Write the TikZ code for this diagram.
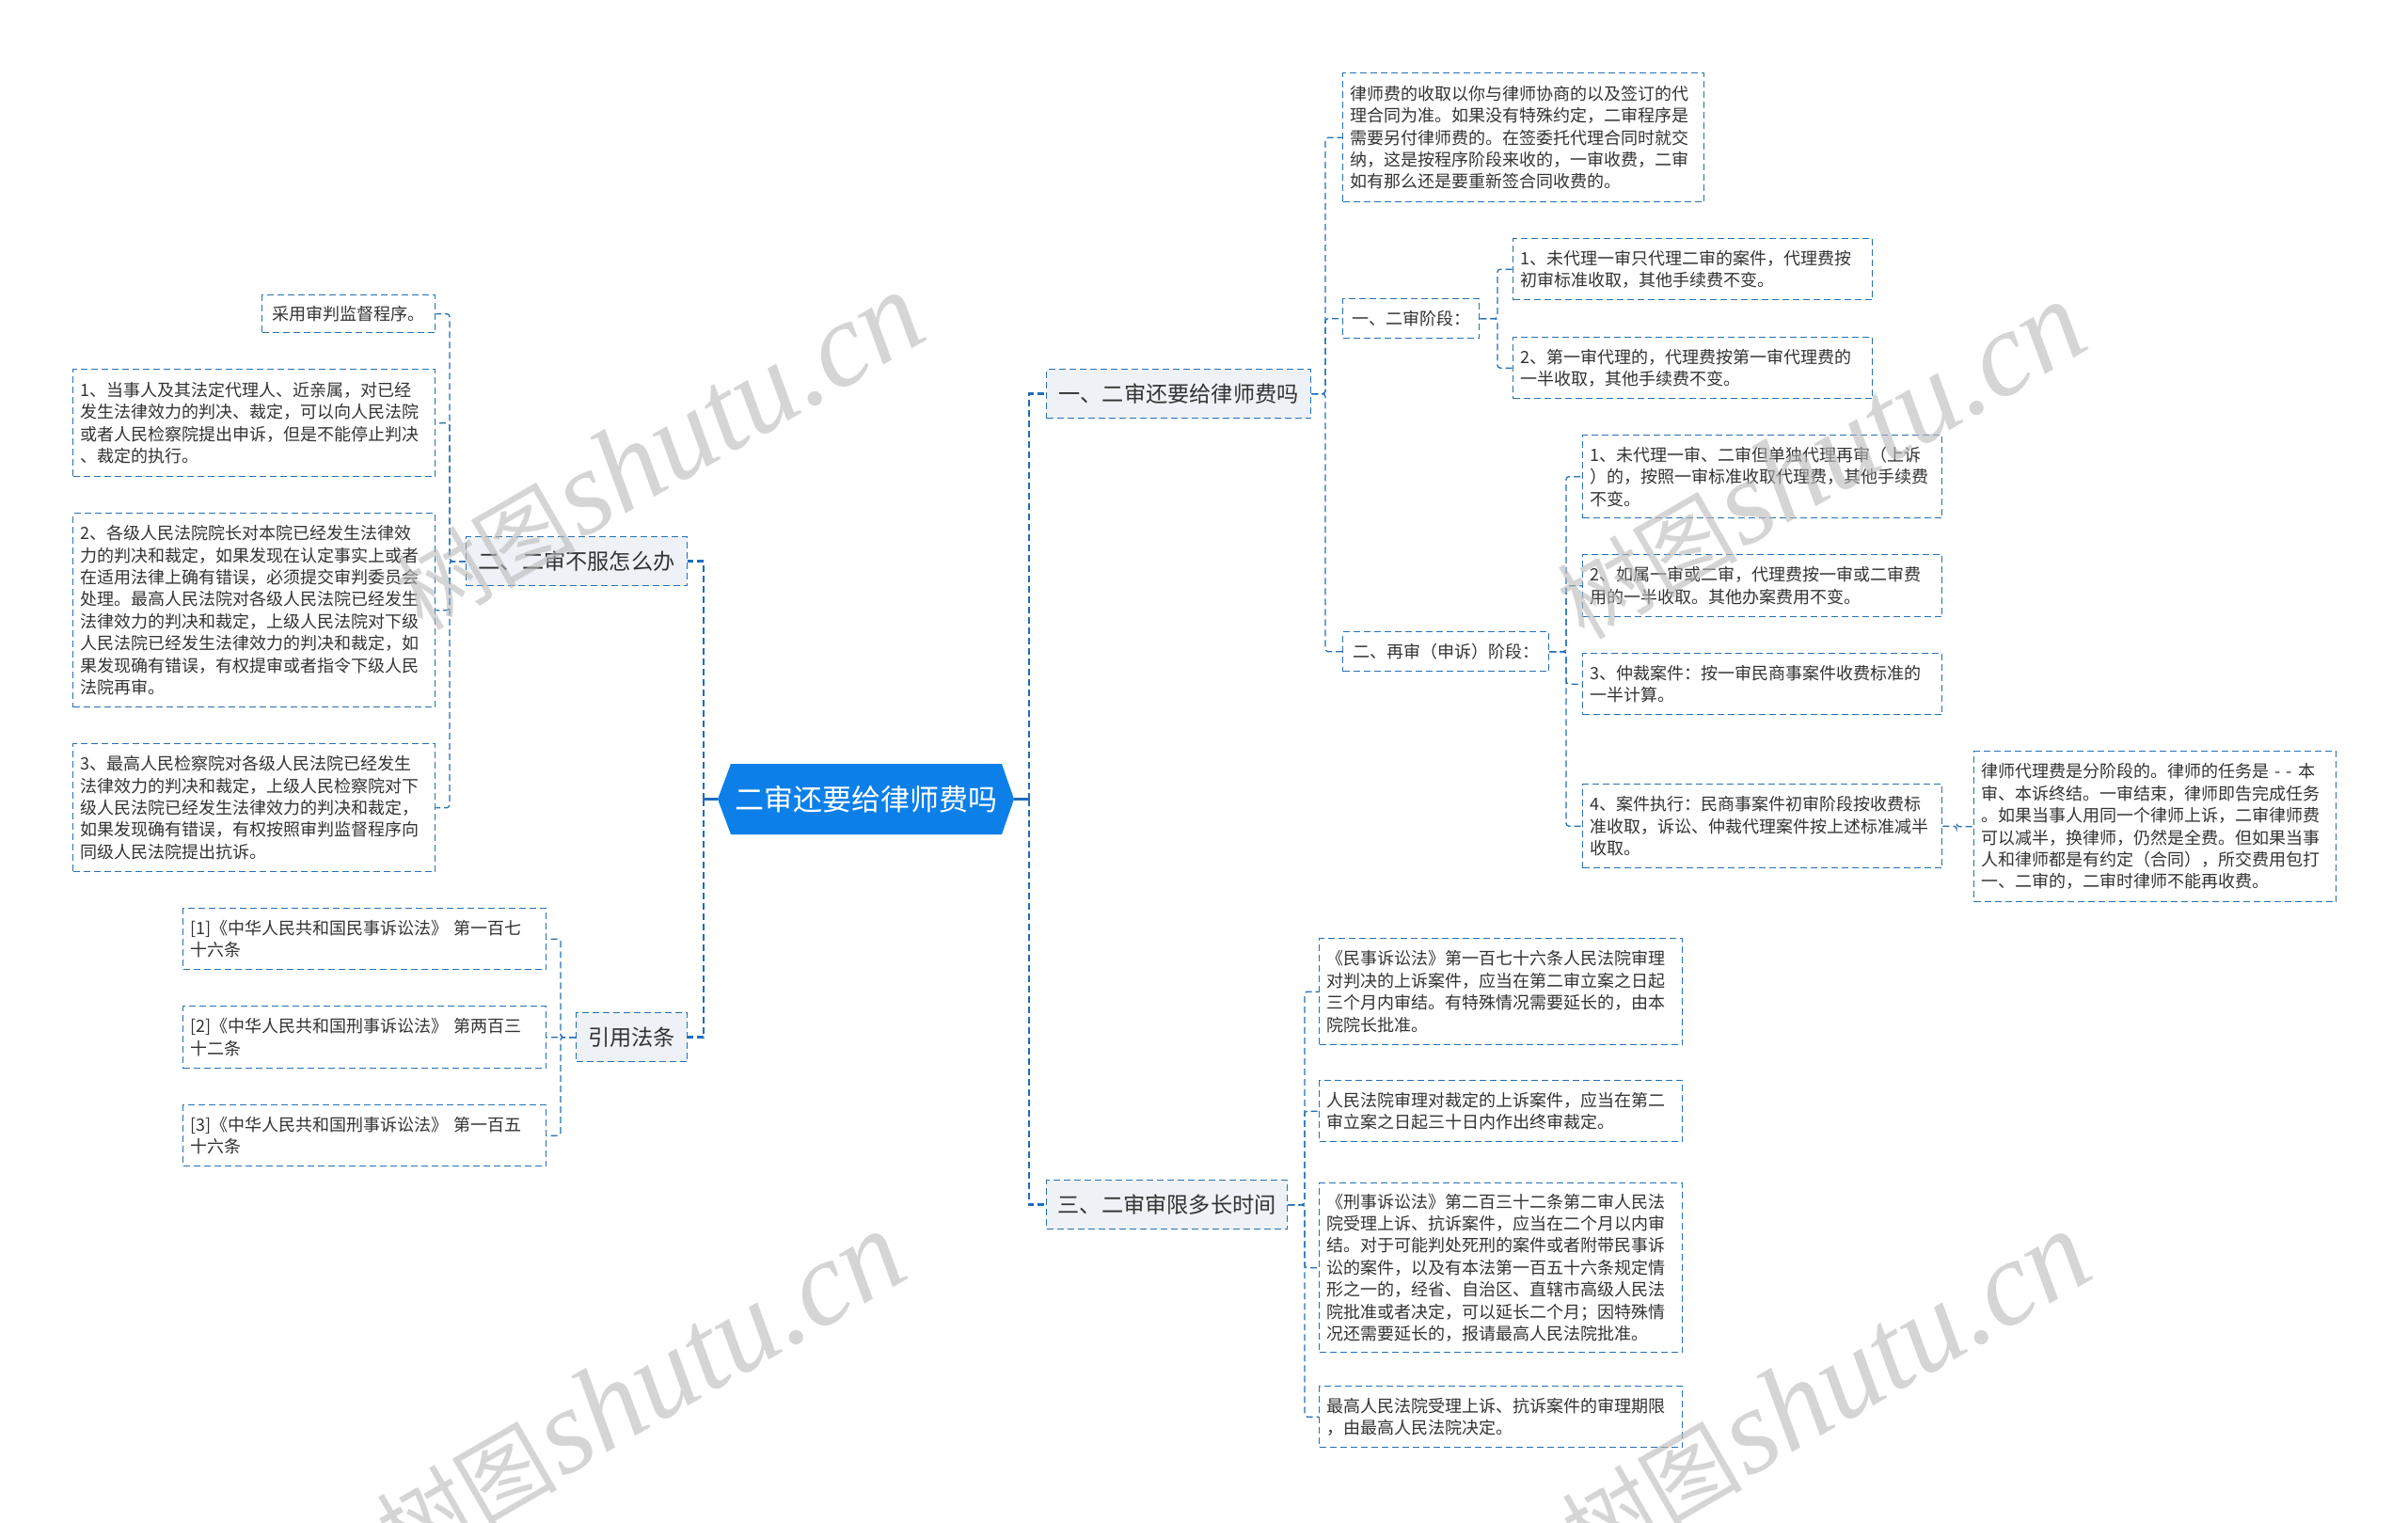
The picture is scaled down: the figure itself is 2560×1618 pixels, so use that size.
\documentclass[tikz,border=0pt]{standalone}
\usepackage{fontspec}
\setmainfont{Noto Sans CJK SC}
\newfontfamily\wmfont{Liberation Serif}
\usetikzlibrary{calc}
\definecolor{bord}{RGB}{38,112,180}
\definecolor{trk}{RGB}{28,108,190}
\definecolor{ctr}{RGB}{12,128,232}
\definecolor{lvl}{RGB}{238,241,245}
\definecolor{txt}{RGB}{51,51,51}
\definecolor{wm}{RGB}{185,185,185}
\tikzset{
  leaf/.style={draw=bord, line width=0.65pt, dash pattern=on 3.5pt off 2pt, fill=white,
    anchor=north west, inner xsep=4pt, inner ysep=3pt, align=left, text=txt,
    font=\fontsize{9pt}{11.7pt}\selectfont},
  lvone/.style={leaf, fill=lvl, align=center, font=\fontsize{11.6pt}{14pt}\selectfont},
  con/.style={draw=bord, line width=0.65pt, dash pattern=on 3.5pt off 2pt, rounded corners=1.5pt},
  trunk/.style={draw=trk, line width=1.3pt, dash pattern=on 3.5pt off 2pt},
  soltrunk/.style={draw=trk, line width=1.3pt},
  wmark/.style={rotate=30, text=wm, opacity=0.6}
}
\begin{document}
\begin{tikzpicture}[x=0.5pt,y=-0.5pt]
\useasboundingbox (0,0) rectangle (2560,1618);
\fill[white] (0,0) rectangle (2560,1618);

% trunk coordinates
\coordinate (tL) at (748,0);
\coordinate (tR) at (1094,0);
\coordinate (tA) at (1409,0);
\coordinate (tB) at (1592,0);
\coordinate (tC) at (1665,0);
\coordinate (tD) at (2080,0);
\coordinate (tE) at (1387,0);
\coordinate (tF) at (478,0);
\coordinate (tG) at (596,0);

% center
\fill[ctr] (763,849.5) -- (777,812) -- (1065,812) -- (1078,849.5) -- (1065,887) -- (777,887) -- cycle;
\node[inner sep=0, minimum width=157.5pt, minimum height=37.5pt, text=white,
  font=\fontsize{15.5pt}{18pt}\selectfont] (C) at (920.5,849.5) {二审还要给律师费吗};

% level one
\node[lvone, minimum width=140.5pt, minimum height=26pt] (R1) at (1112,392) {一、二审还要给律师费吗};
\node[lvone, minimum width=128pt, minimum height=26pt] (R2) at (1112,1254) {三、二审审限多长时间};
\node[lvone, minimum width=117.5pt, minimum height=26pt] (L1) at (495,570) {二、二审不服怎么办};
\node[lvone, minimum width=59pt, minimum height=26pt] (L2) at (612,1076) {引用法条};

% right branch 1
\node[leaf, text width=184pt, minimum height=68.5pt] (A1) at (1427,77) {律师费的收取以你与律师协商的以及签订的代\\理合同为准。如果没有特殊约定，二审程序是\\需要另付律师费的。在签委托代理合同时就交\\纳，这是按程序阶段来收的，一审收费，二审\\如有那么还是要重新签合同收费的。};
\node[leaf, align=center, minimum width=72.5pt, minimum height=21pt] (A2) at (1427,317) {一、二审阶段：};
\node[leaf, align=center, minimum width=109.5pt, minimum height=21pt] (A3) at (1427,671) {二、再审（申诉）阶段：};

\node[leaf, text width=183pt, minimum height=32.5pt] (B1) at (1608,253) {1、未代理一审只代理二审的案件，代理费按\\初审标准收取，其他手续费不变。};
\node[leaf, text width=183pt, minimum height=32.5pt] (B2) at (1608,358) {2、第一审代理的，代理费按第一审代理费的\\一半收取，其他手续费不变。};

\node[leaf, text width=183pt, minimum height=44pt] (C1) at (1682,462) {1、未代理一审、二审但单独代理再审（上诉\\）的，按照一审标准收取代理费，其他手续费\\不变。};
\node[leaf, text width=183pt, minimum height=33pt] (C2) at (1682,589) {2、如属一审或二审，代理费按一审或二审费\\用的一半收取。其他办案费用不变。};
\node[leaf, text width=183pt, minimum height=32.5pt] (C3) at (1682,694) {3、仲裁案件：按一审民商事案件收费标准的\\一半计算。};
\node[leaf, text width=183pt, minimum height=44.5pt] (C4) at (1682,833) {4、案件执行：民商事案件初审阶段按收费标\\准收取，诉讼、仲裁代理案件按上述标准减半\\收取。};

\node[leaf, text width=184.5pt, minimum height=80pt] (D1) at (2098,798) {律师代理费是分阶段的。律师的任务是 - - 本\\审、本诉终结。一审结束，律师即告完成任务\\。如果当事人用同一个律师上诉，二审律师费\\可以减半，换律师，仍然是全费。但如果当事\\人和律师都是有约定（合同），所交费用包打\\一、二审的，二审时律师不能再收费。};

% right branch 3
\node[leaf, text width=185pt, minimum height=56.5pt] (E1) at (1402,997) {《民事诉讼法》第一百七十六条人民法院审理\\对判决的上诉案件，应当在第二审立案之日起\\三个月内审结。有特殊情况需要延长的，由本\\院院长批准。};
\node[leaf, text width=185pt, minimum height=32.5pt] (E2) at (1402,1148) {人民法院审理对裁定的上诉案件，应当在第二\\审立案之日起三十日内作出终审裁定。};
\node[leaf, text width=185pt, minimum height=90pt] (E3) at (1402,1257) {《刑事诉讼法》第二百三十二条第二审人民法\\院受理上诉、抗诉案件，应当在二个月以内审\\结。对于可能判处死刑的案件或者附带民事诉\\讼的案件，以及有本法第一百五十六条规定情\\形之一的，经省、自治区、直辖市高级人民法\\院批准或者决定，可以延长二个月；因特殊情\\况还需要延长的，报请最高人民法院批准。};
\node[leaf, text width=185pt, minimum height=32.5pt] (E4) at (1402,1473) {最高人民法院受理上诉、抗诉案件的审理期限\\，由最高人民法院决定。};

% left branch 2
\node[leaf, align=center, minimum width=92pt, minimum height=20pt] (F0) at (278,313) {采用审判监督程序。};
\node[leaf, text width=184.5pt, minimum height=57pt] (F1) at (77,392) {1、当事人及其法定代理人、近亲属，对已经\\发生法律效力的判决、裁定，可以向人民法院\\或者人民检察院提出申诉，但是不能停止判决\\、裁定的执行。};
\node[leaf, text width=184.5pt, minimum height=103pt] (F2) at (77,545) {2、各级人民法院院长对本院已经发生法律效\\力的判决和裁定，如果发现在认定事实上或者\\在适用法律上确有错误，必须提交审判委员会\\处理。最高人民法院对各级人民法院已经发生\\法律效力的判决和裁定，上级人民法院对下级\\人民法院已经发生法律效力的判决和裁定，如\\果发现确有错误，有权提审或者指令下级人民\\法院再审。};
\node[leaf, text width=184.5pt, minimum height=68pt] (F3) at (77,790) {3、最高人民检察院对各级人民法院已经发生\\法律效力的判决和裁定，上级人民检察院对下\\级人民法院已经发生法律效力的判决和裁定，\\如果发现确有错误，有权按照审判监督程序向\\同级人民法院提出抗诉。};

% left branch cite
\node[leaf, text width=185pt, minimum height=32.5pt] (G1) at (194,965) {[1]《中华人民共和国民事诉讼法》 第一百七\\十六条};
\node[leaf, text width=185pt, minimum height=33pt] (G2) at (194,1069) {[2]《中华人民共和国刑事诉讼法》 第两百三\\十二条};
\node[leaf, text width=185pt, minimum height=32.5pt] (G3) at (194,1174) {[3]《中华人民共和国刑事诉讼法》 第一百五\\十六条};

% main connectors
\draw[soltrunk] (C.west) -- (C.west -| tL);
\draw[soltrunk] (C.east) -- (C.east -| tR);
\draw[trunk] (C.west -| tL) |- (L1.east);
\draw[trunk] (C.west -| tL) |- (L2.east);
\draw[trunk] (C.east -| tR) |- (R1.west);
\draw[trunk] (C.east -| tR) |- (R2.west);

% secondary connectors
\foreach \n in {A1,A2,A3} \draw[con] (R1.east) -- (R1.east -| tA) |- (\n.west);
\foreach \n in {B1,B2} \draw[con] (A2.east) -- (A2.east -| tB) |- (\n.west);
\foreach \n in {C1,C2,C3,C4} \draw[con] (A3.east) -- (A3.east -| tC) |- (\n.west);
\draw[con] (C4.east) -- (C4.east -| tD) |- (D1.west);
\foreach \n in {E1,E2,E3,E4} \draw[con] (R2.east) -- (R2.east -| tE) |- (\n.west);
\foreach \n in {F0,F1,F2,F3} \draw[con] (L1.west) -- (L1.west -| tF) |- (\n.east);
\foreach \n in {G1,G2,G3} \draw[con] (L2.west) -- (L2.west -| tG) |- (\n.east);

% watermarks
\foreach \p in {(700,480),(1935,490),(680,1478),(1940,1478)}{
  \node[wmark] at \p {{\fontsize{48pt}{48pt}\selectfont 树图}\,{\wmfont\itshape\fontsize{64pt}{64pt}\selectfont shutu.cn}};
}
\end{tikzpicture}
\end{document}
